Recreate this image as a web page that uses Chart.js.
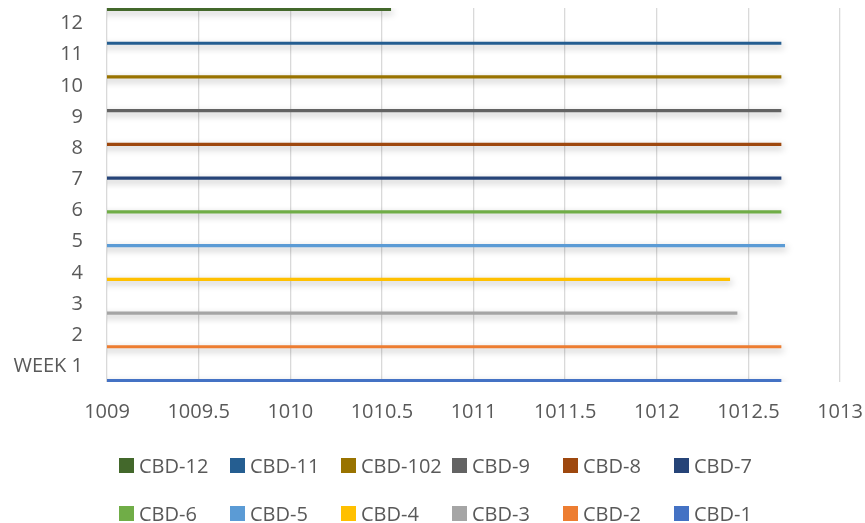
<!DOCTYPE html>
<html>
<head>
<meta charset="utf-8">
<script src="https://cdn.jsdelivr.net/npm/chart.js@4/dist/chart.umd.min.js"></script>
<style>
  body { margin: 0; background: #fff; }
  #wrap { position: relative; width: 865px; height: 523px; }
  #legend { position: absolute; left: 119px; top: 452px; width: 700px;
            font-family: "Open Sans", sans-serif; font-size: 20px; color: #595959; }
  .item { display: inline-flex; align-items: center; width: 111px; height: 24px; margin-bottom: 22px; }
  .box { width: 15px; height: 15px; margin-right: 5px; }
</style>
</head>
<body>
<div id="wrap">
  <canvas id="myChart" width="865" height="523"></canvas>
  <div id="legend"></div>
</div>
<script>
// Sample data
const weeks = ['WEEK 1', '2', '3', '4', '5', '6', '7', '8', '9', '10', '11', '12'];
const seriesNames = ['CBD-1', 'CBD-2', 'CBD-3', 'CBD-4', 'CBD-5', 'CBD-6', 'CBD-7', 'CBD-8', 'CBD-9', 'CBD-102', 'CBD-11', 'CBD-12'];
const values = [1012.68, 1012.68, 1012.44, 1012.40, 1012.70, 1012.68, 1012.68, 1012.68, 1012.68, 1012.68, 1012.68, 1010.55];
const colors = ['#4472C4', '#ED7D31', '#A5A5A5', '#FFC000', '#5B9BD5', '#70AD47', '#264478', '#9E480E', '#636363', '#997300', '#255E91', '#43682B'];

// each series only has a value in its own week
const datasets = [];
for (let i = seriesNames.length - 1; i >= 0; i--) {
  const d = weeks.map(() => null);
  d[i] = values[i];
  datasets.push({
    label: seriesNames[i],
    data: d,
    backgroundColor: colors[i],
    borderWidth: 0
  });
}

// soft shadow under the bars
const shadow = {
  id: 'shadow',
  beforeDatasetsDraw(chart) {
    const c = chart.ctx;
    c.save();
    c.shadowColor = 'rgba(0,0,0,0.28)';
    c.shadowBlur = 7;
    c.shadowOffsetX = 2;
    c.shadowOffsetY = 3;
  },
  afterDatasetsDraw(chart) {
    chart.ctx.restore();
  }
};

Chart.defaults.font.family = '"Open Sans", sans-serif';
Chart.defaults.font.size = 20;
Chart.defaults.color = '#595959';

const ctx = document.getElementById('myChart').getContext('2d');
const myChart = new Chart(ctx, {
  type: 'bar',
  data: { labels: weeks, datasets: datasets },
  options: {
    indexAxis: 'y',
    responsive: false,
    animation: false,
    categoryPercentage: 0.99,
    barPercentage: 1.2,
    layout: { padding: { top: 8, right: 25, bottom: 99, left: 0 } },
    plugins: { legend: { display: false }, tooltip: { enabled: false } },
    scales: {
      x: {
        min: 1009,
        max: 1013,
        ticks: { stepSize: 0.5, padding: 0, callback: v => v },
        grid: { color: '#d9d9d9', lineWidth: 1.3, drawTicks: true, tickLength: 18, tickColor: 'transparent' },
        border: { display: false }
      },
      y: {
        reverse: true,
        grid: { display: true, drawOnChartArea: false, drawTicks: true, tickLength: 24, color: 'transparent' },
        border: { display: false },
        ticks: { padding: 0, font: { lineHeight: 0.7 } },
        afterFit(scale) { scale.width = 107; }
      }
    }
  },
  plugins: [shadow]
});

// legend in the same order as the datasets
const legend = document.getElementById('legend');
datasets.forEach(ds => {
  const item = document.createElement('span');
  item.className = 'item';
  item.innerHTML = '<span class="box" style="background:' + ds.backgroundColor + '"></span>' + ds.label;
  legend.appendChild(item);
});
</script>
</body>
</html>
